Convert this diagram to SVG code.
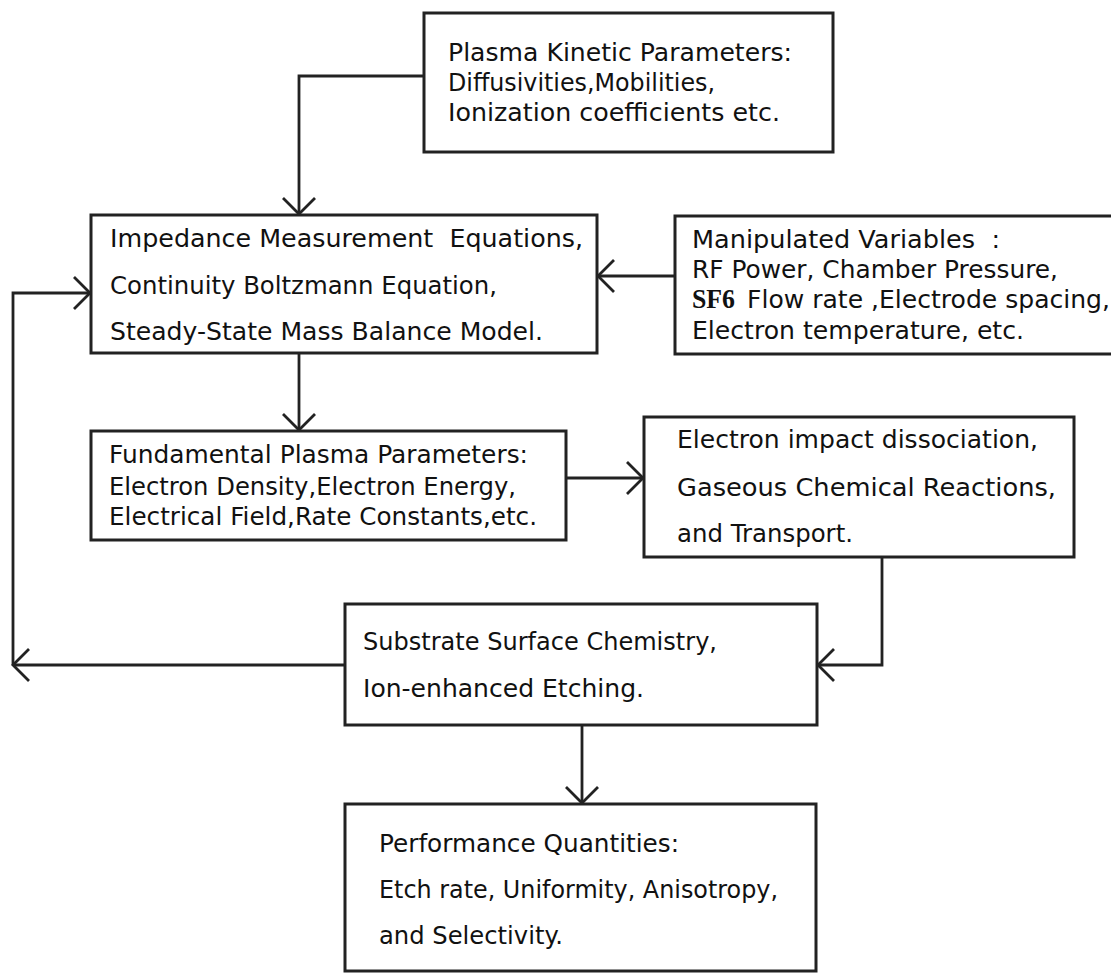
<svg xmlns="http://www.w3.org/2000/svg" width="1111" height="973" viewBox="0 0 1111 973">
<style>
.box{fill:#fff;stroke:#222;stroke-width:3}
.t{font-family:"DejaVu Sans","Liberation Sans",sans-serif;font-size:24.5px;fill:#111}
.b{font-family:"Liberation Serif","Times New Roman",serif;font-size:27px;font-weight:bold;fill:#111}
.c{fill:none;stroke:#222;stroke-width:2.8}
</style>
<defs>
<marker id="arr" markerUnits="userSpaceOnUse" markerWidth="40" markerHeight="40" viewBox="-20 -20 40 40" refX="0" refY="0" orient="auto" overflow="visible">
<path d="M -16 -16 L 0 0 L -16 16" fill="none" stroke="#222" stroke-width="2.8"/>
</marker>
</defs>
<rect width="1111" height="973" fill="#fff"/>
<g id="connectors">
<path class="c" d="M 424 76 H 299 V 214" marker-end="url(#arr)"/>
<path class="c" d="M 675 276 H 598" marker-end="url(#arr)"/>
<path class="c" d="M 299 353 V 430" marker-end="url(#arr)"/>
<path class="c" d="M 566 478 H 643" marker-end="url(#arr)"/>
<path class="c" d="M 882 557 V 665 H 818" marker-end="url(#arr)"/>
<path class="c" d="M 345 665 H 13" marker-end="url(#arr)"/>
<path class="c" d="M 13 665 V 293 H 90" marker-end="url(#arr)"/>
<path class="c" d="M 582 725 V 803" marker-end="url(#arr)"/>
</g>
<g id="kinetic">
<rect class="box" x="424" y="13" width="409" height="139"/>
<text class="t" x="448" y="61" textLength="344" lengthAdjust="spacingAndGlyphs">Plasma Kinetic Parameters:</text>
<text class="t" x="448" y="91" textLength="267" lengthAdjust="spacingAndGlyphs">Diffusivities,Mobilities,</text>
<text class="t" x="448" y="121" textLength="332" lengthAdjust="spacingAndGlyphs">Ionization coefficients etc.</text>
</g>
<g id="impedance">
<rect class="box" x="91" y="215" width="506" height="138"/>
<text class="t" x="110" y="247" textLength="473" lengthAdjust="spacingAndGlyphs" xml:space="preserve">Impedance Measurement  Equations,</text>
<text class="t" x="110" y="294" textLength="387" lengthAdjust="spacingAndGlyphs">Continuity Boltzmann Equation,</text>
<text class="t" x="110" y="340" textLength="433" lengthAdjust="spacingAndGlyphs">Steady-State Mass Balance Model.</text>
</g>
<g id="manipulated">
<rect class="box" x="675" y="216" width="450" height="138"/>
<text class="t" x="692" y="248" textLength="308" lengthAdjust="spacingAndGlyphs" xml:space="preserve">Manipulated Variables  :</text>
<text class="t" x="692" y="278" textLength="366" lengthAdjust="spacingAndGlyphs">RF Power, Chamber Pressure,</text>
<text class="b" x="692" y="308" textLength="43" lengthAdjust="spacingAndGlyphs">SF6</text>
<text class="t" x="747" y="308" textLength="363" lengthAdjust="spacingAndGlyphs">Flow rate ,Electrode spacing,</text>
<text class="t" x="692" y="339" textLength="332" lengthAdjust="spacingAndGlyphs">Electron temperature, etc.</text>
</g>
<g id="fundamental">
<rect class="box" x="91" y="431" width="475" height="109"/>
<text class="t" x="109" y="463" textLength="419" lengthAdjust="spacingAndGlyphs">Fundamental Plasma Parameters:</text>
<text class="t" x="109" y="495" textLength="407" lengthAdjust="spacingAndGlyphs">Electron Density,Electron Energy,</text>
<text class="t" x="109" y="525" textLength="428" lengthAdjust="spacingAndGlyphs">Electrical Field,Rate Constants,etc.</text>
</g>
<g id="electron-impact">
<rect class="box" x="644" y="417" width="430" height="140"/>
<text class="t" x="677" y="448" textLength="361" lengthAdjust="spacingAndGlyphs">Electron impact dissociation,</text>
<text class="t" x="677" y="496" textLength="379" lengthAdjust="spacingAndGlyphs">Gaseous Chemical Reactions,</text>
<text class="t" x="677" y="542" textLength="176" lengthAdjust="spacingAndGlyphs">and Transport.</text>
</g>
<g id="substrate">
<rect class="box" x="345" y="604" width="472" height="121"/>
<text class="t" x="363" y="650" textLength="354" lengthAdjust="spacingAndGlyphs">Substrate Surface Chemistry,</text>
<text class="t" x="363" y="697" textLength="281" lengthAdjust="spacingAndGlyphs">Ion-enhanced Etching.</text>
</g>
<g id="performance">
<rect class="box" x="345" y="804" width="471" height="167"/>
<text class="t" x="379" y="852" textLength="300" lengthAdjust="spacingAndGlyphs">Performance Quantities:</text>
<text class="t" x="379" y="898" textLength="399" lengthAdjust="spacingAndGlyphs">Etch rate, Uniformity, Anisotropy,</text>
<text class="t" x="379" y="944" textLength="184" lengthAdjust="spacingAndGlyphs">and Selectivity.</text>
</g>
</svg>
